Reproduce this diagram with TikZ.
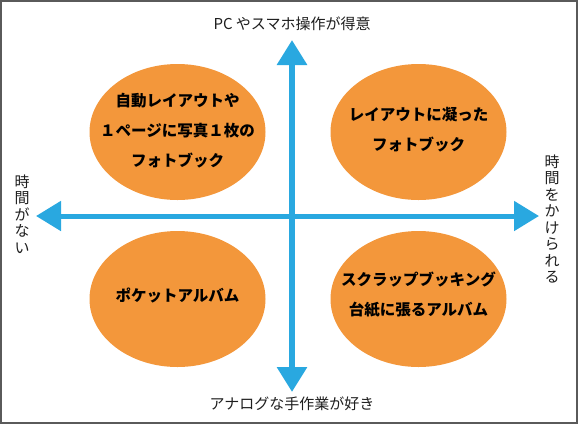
\documentclass[tikz,border=0pt]{standalone}
\usepackage{fontspec}
\setmainfont{Noto Sans CJK JP}
\usetikzlibrary{arrows.meta,shapes.geometric}
\definecolor{ora}{RGB}{243,151,59}
\definecolor{axb}{RGB}{41,168,224}
\definecolor{frm}{RGB}{90,90,90}
\definecolor{txt}{RGB}{30,30,30}
\begin{document}
\begin{tikzpicture}[x=1pt,y=-1pt,
  quad/.style={ellipse, fill=ora, draw=none, minimum width=176pt, minimum height=136pt, inner sep=0pt},
  qtext/.style={align=center, text=black, inner sep=0pt, font=\fontsize{15.5}{30}\selectfont\bfseries},
  axlabel/.style={text=txt, font=\fontsize{15}{16.5}\selectfont, inner sep=0pt, align=center},
  axis/.style={draw=axb, line width=5.5pt},
  tip/.style={-{Triangle[length=25pt,width=29pt]}},
  dtip/.style={{Triangle[length=25pt,width=29pt]}-{Triangle[length=25pt,width=29pt]}}
]
\useasboundingbox (0,0) rectangle (578,424);
\fill[white] (0,0) rectangle (578,424);
\draw[frm, line width=2pt] (1,1) rectangle (577,423);

% ellipses
\node[quad] (tl) at (177.5,132) {};
\node[quad] (tr) at (418.5,132) {};
\node[quad] (bl) at (177.5,299) {};
\node[quad] (br) at (418.5,299) {};
\node[qtext] (tlt) at ([yshift=1pt]tl.center) {自動レイアウトや\\１ページに写真１枚の\\フォトブック};
\node[qtext] (trt) at ([yshift=2pt]tr.center) {レイアウトに凝った\\フォトブック};
\node[qtext] (blt) at ([yshift=3pt]bl.center) {ポケットアルバム};
\node[qtext] (brt) at ([yshift=4pt]br.center) {スクラップブッキング\\台紙に張るアルバム};

% axes
\coordinate (up) at (292,40);
\coordinate (down) at (292,392);
\coordinate (left) at (36,216);
\coordinate (right) at (539,216);
\coordinate (mid) at (292,216);
\draw[axis, line width=6pt, tip] (mid) -- (up);
\draw[axis, line width=6pt, tip] (mid) -- (down);
\draw[axis, line width=5pt, dtip] (left) -- (right);

% axis labels
\node[axlabel] (ltop) at (292,24) {PC やスマホ操作が得意};
\node[axlabel] (lbot) at (292,404) {アナログな手作業が好き};
\node[axlabel] (lleft) at (22,214) {時\\間\\が\\な\\い};
\node[axlabel] (lright) at (552,219) {時\\間\\を\\か\\け\\ら\\れ\\る};
\end{tikzpicture}
\end{document}
